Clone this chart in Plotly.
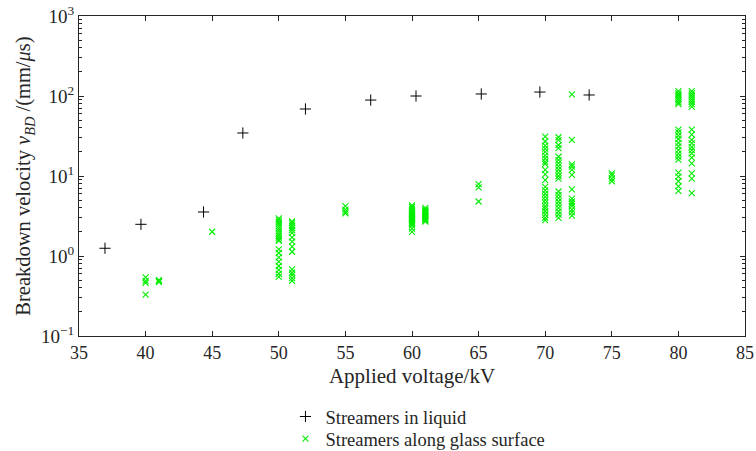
import plotly.graph_objects as go

# Streamers in liquid (+)
liquid_kv = [36.95, 39.65, 44.35, 47.3, 52.0, 56.9, 60.3, 65.2, 69.6, 73.3]
liquid_v = [1.25, 2.49, 3.55, 34.5, 68.8, 89.0, 100.0, 106.0, 112.0, 103.0]

# Streamers along glass surface (x)
kv40 = [0.54, 0.49, 0.46, 0.33]
kv41 = [0.50, 0.47, 0.49]
kv45 = [2.01]
kv50 = [2.95, 2.8, 2.65, 2.5, 2.35, 2.2, 2.05, 1.9, 1.8, 1.7, 1.6, 1.55,
        1.21, 1.09, 0.96, 0.85, 0.75, 0.67, 0.6, 0.55]
kv51 = [2.7, 2.55, 2.4, 2.25, 2.1, 1.95, 1.71, 1.51, 1.31, 1.13,
        0.68, 0.62, 0.58, 0.53, 0.49]
kv55 = [4.2, 3.8, 3.55, 3.4]
kv60 = [4.3, 4.1, 3.9, 3.7, 3.5, 3.4, 3.3, 3.2, 3.1, 3.0, 2.9, 2.8, 2.7,
        2.6, 2.5, 2.4, 2.2, 2.0]
kv61 = [4.0, 3.8, 3.7, 3.6, 3.5, 3.4, 3.3, 3.2, 3.1, 3.0, 2.9, 2.8, 2.7]
kv65 = [7.9, 7.2, 4.8]
kv70 = [31.0, 27.0, 24.0, 22.0, 20.0, 18.0, 16.5, 15.0, 14.2, 11.9, 10.5, 8.9,
        7.3, 6.6, 6.0, 5.5, 5.0, 4.6, 4.2, 3.9, 3.6, 3.3, 3.0, 2.8]
kv71 = [30.5, 28.0, 24.4, 22.3, 17.4, 15.8, 14.5, 13.2, 12.0, 11.0, 10.0, 9.3,
        6.4, 5.8, 5.3, 4.8, 4.4, 4.0, 3.6, 3.3, 3.0]
kv72 = [105.0, 28.2, 14.0, 13.1, 11.9, 10.3, 6.8, 5.2, 4.8, 4.5, 4.2, 3.8,
        3.5, 3.2]
kv75 = [10.8, 10.2, 9.3, 8.6]
kv80 = [115.0, 108.0, 103.0, 98.0, 93.0, 88.0, 83.0, 79.0,
        38.0, 35.0, 32.0, 29.0, 26.0, 23.5, 21.0, 19.0, 17.5, 16.0,
        11.0, 9.8, 8.6, 7.4, 6.5]
kv81 = [115.0, 108.0, 102.0, 96.0, 90.0, 85.0, 79.0, 73.5,
        38.0, 33.0, 28.2, 25.5, 23.0, 21.0, 19.2, 17.0, 14.4,
        10.8, 9.3, 6.1]

glass_groups = [(40, kv40), (41, kv41), (45, kv45), (50, kv50), (51, kv51),
                (55, kv55), (60, kv60), (61, kv61), (65, kv65), (70, kv70),
                (71, kv71), (72, kv72), (75, kv75), (80, kv80), (81, kv81)]
glass_kv = [k for k, vals in glass_groups for _ in vals]
glass_v = [v for _, vals in glass_groups for v in vals]

y_tickvals = [0.1, 1, 10, 100, 1000]
y_ticktext = ["10<sup>−1</sup>", "10<sup>0</sup>", "10<sup>1</sup>",
              "10<sup>2</sup>", "10<sup>3</sup>"]
x_tickvals = [35, 40, 45, 50, 55, 60, 65, 70, 75, 80, 85]

FONT = "Liberation Serif"
AX = "#262626"
GREEN = "#00ee00"

fig = go.Figure()
fig.add_trace(go.Scatter(
    x=liquid_kv, y=liquid_v, mode="markers", name="Streamers in liquid",
    legend="legend",
    marker=dict(symbol="cross-thin", size=8, color="black",
                line=dict(width=1, color="black"))))
fig.add_trace(go.Scatter(
    x=glass_kv, y=glass_v, mode="markers", name="Streamers along glass surface",
    legend="legend2",
    marker=dict(symbol="x-thin", size=6, color=GREEN,
                line=dict(width=1.1, color=GREEN))))

leg_common = dict(xanchor="left", yanchor="middle", orientation="v",
                  font=dict(size=18.5, family=FONT, color="#262626"),
                  bgcolor="rgba(0,0,0,0)", itemwidth=30, borderwidth=0)

fig.update_layout(
    width=756, height=451,
    margin=dict(l=79, r=11, t=16, b=115, autoexpand=False),
    paper_bgcolor="white", plot_bgcolor="white",
    font=dict(family=FONT, size=18, color="#262626"),
    showlegend=True,
    legend=dict(x=0.310, y=-0.253, **leg_common),
    legend2=dict(x=0.310, y=-0.322, **leg_common),
    xaxis=dict(
        range=[35, 85], tickvals=x_tickvals, ticks="inside", ticklen=5,
        tickcolor=AX, showline=True, linecolor=AX, linewidth=1, mirror="ticks",
        showgrid=False, zeroline=False,
        title=dict(text="Applied voltage/kV", standoff=6, font=dict(size=21)),
        tickfont=dict(size=18)),
    yaxis=dict(
        type="log", range=[-1, 3], tickvals=y_tickvals, ticktext=y_ticktext,
        ticks="inside", ticklen=5, tickcolor=AX, showline=True, linecolor=AX,
        linewidth=1, mirror="ticks", showgrid=False, zeroline=False,
        minor=dict(ticks="inside", ticklen=3, tickcolor=AX, dtick="D1", showgrid=False),
        title=dict(text="Breakdown velocity <i>v</i><sub><i>BD</i></sub> /(mm/<i>μ</i>s)",
                   standoff=4, font=dict(size=20.5)),
        tickfont=dict(size=19)),
)

fig.write_html("out.html")
